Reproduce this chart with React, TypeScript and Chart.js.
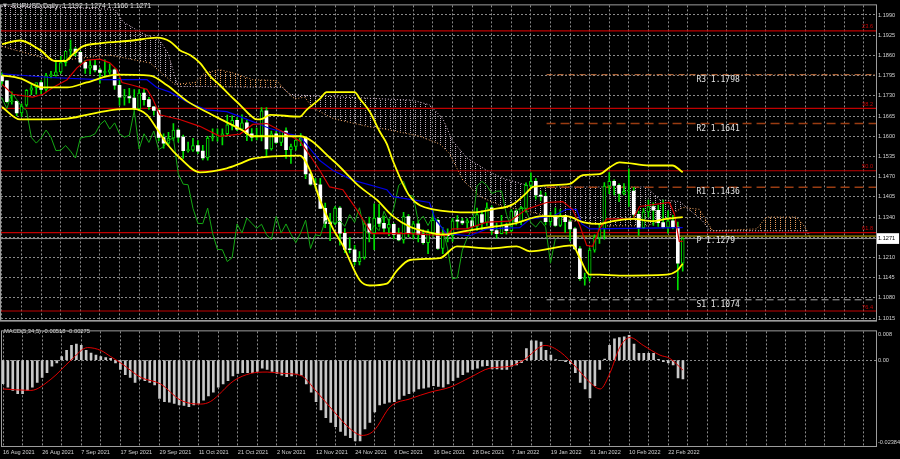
import React, { useEffect, useRef } from 'react';
import { Chart, registerables } from 'chart.js';

Chart.register(...registerables);

// ---------------- data ----------------
const titleText = 'EURUSD,Daily  1.1192 1.1274 1.1166 1.1271';
const macdTitle = 'MACD(5,34,5) -0.00518 -0.00275';

const opens = [
  1.1794, 1.1778, 1.1711, 1.1712, 1.1675, 1.1700, 1.1748, 1.1756, 1.1773, 1.1751,
  1.1795, 1.1796, 1.1807, 1.1837, 1.1874, 1.1880, 1.1870, 1.1838, 1.1819, 1.1827,
  1.1813, 1.1805, 1.1806, 1.1814, 1.1764, 1.1726, 1.1728, 1.1723, 1.1689, 1.1739,
  1.1718, 1.1695, 1.1683, 1.1596, 1.1578, 1.1594, 1.1620, 1.1597, 1.1554, 1.1555,
  1.1570, 1.1552, 1.1530, 1.1594, 1.1598, 1.1600, 1.1608, 1.1637, 1.1651, 1.1623,
  1.1643, 1.1608, 1.1597, 1.1603, 1.1682, 1.1559, 1.1608, 1.1580, 1.1617, 1.1557,
  1.1567, 1.1588, 1.1594, 1.1479, 1.1446, 1.1444, 1.1368, 1.1320, 1.1319, 1.1369,
  1.1288, 1.1236, 1.1235, 1.1197, 1.1210, 1.1318, 1.1289, 1.1337, 1.1320, 1.1304,
  1.1317, 1.1284, 1.1267, 1.1342, 1.1289, 1.1318, 1.1285, 1.1258, 1.1290, 1.1330,
  1.1239, 1.1283, 1.1280, 1.1328, 1.1327, 1.1321, 1.1328, 1.1310, 1.1348, 1.1323,
  1.1370, 1.1297, 1.1287, 1.1313, 1.1296, 1.1359, 1.1325, 1.1368, 1.1442, 1.1455,
  1.1411, 1.1407, 1.1325, 1.1343, 1.1313, 1.1345, 1.1325, 1.1302, 1.1238, 1.1142,
  1.1145, 1.1234, 1.1273, 1.1303, 1.1440, 1.1455, 1.1442, 1.1416, 1.1423, 1.1424,
  1.1349, 1.1306, 1.1357, 1.1374, 1.1362, 1.1322, 1.1308, 1.1328, 1.1308, 1.1192,
];
const highs = [
  1.1804, 1.1780, 1.1743, 1.1714, 1.1704, 1.1750, 1.1766, 1.1771, 1.1779, 1.1802,
  1.1809, 1.1845, 1.1857, 1.1873, 1.1909, 1.1885, 1.1873, 1.1844, 1.1845, 1.1845,
  1.1819, 1.1846, 1.1833, 1.1818, 1.1788, 1.1751, 1.1754, 1.1750, 1.1750, 1.1752,
  1.1725, 1.1696, 1.1688, 1.1608, 1.1613, 1.1641, 1.1624, 1.1604, 1.1581, 1.1593,
  1.1586, 1.1571, 1.1600, 1.1624, 1.1624, 1.1624, 1.1668, 1.1666, 1.1660, 1.1669,
  1.1653, 1.1625, 1.1626, 1.1692, 1.1692, 1.1617, 1.1616, 1.1617, 1.1627, 1.1575,
  1.1595, 1.1609, 1.1595, 1.1482, 1.1465, 1.1465, 1.1385, 1.1352, 1.1374, 1.1374,
  1.1303, 1.1275, 1.1249, 1.1229, 1.1328, 1.1340, 1.1383, 1.1381, 1.1343, 1.1334,
  1.1320, 1.1305, 1.1355, 1.1348, 1.1326, 1.1328, 1.1299, 1.1300, 1.1360, 1.1334,
  1.1306, 1.1302, 1.1336, 1.1345, 1.1336, 1.1335, 1.1339, 1.1369, 1.1360, 1.1386,
  1.1376, 1.1321, 1.1346, 1.1321, 1.1364, 1.1363, 1.1375, 1.1450, 1.1482, 1.1464,
  1.1424, 1.1418, 1.1355, 1.1370, 1.1364, 1.1346, 1.1331, 1.1306, 1.1245, 1.1160,
  1.1240, 1.1283, 1.1316, 1.1451, 1.1483, 1.1460, 1.1447, 1.1448, 1.1495, 1.1436,
  1.1359, 1.1368, 1.1395, 1.1386, 1.1379, 1.1395, 1.1360, 1.1346, 1.1324, 1.1274,
];
const lows = [
  1.1764, 1.1707, 1.1703, 1.1666, 1.1664, 1.1696, 1.1734, 1.1735, 1.1735, 1.1744,
  1.1788, 1.1793, 1.1802, 1.1826, 1.1856, 1.1858, 1.1835, 1.1802, 1.1800, 1.1807,
  1.1771, 1.1791, 1.1800, 1.1751, 1.1700, 1.1700, 1.1707, 1.1684, 1.1683, 1.1700,
  1.1686, 1.1668, 1.1585, 1.1562, 1.1570, 1.1587, 1.1581, 1.1529, 1.1549, 1.1551,
  1.1544, 1.1524, 1.1523, 1.1585, 1.1584, 1.1572, 1.1600, 1.1620, 1.1618, 1.1618,
  1.1586, 1.1585, 1.1588, 1.1585, 1.1535, 1.1555, 1.1576, 1.1570, 1.1529, 1.1513,
  1.1555, 1.1570, 1.1464, 1.1443, 1.1433, 1.1367, 1.1306, 1.1264, 1.1316, 1.1250,
  1.1226, 1.1225, 1.1186, 1.1186, 1.1205, 1.1260, 1.1235, 1.1309, 1.1292, 1.1280,
  1.1270, 1.1263, 1.1256, 1.1276, 1.1270, 1.1260, 1.1253, 1.1222, 1.1278, 1.1236,
  1.1222, 1.1260, 1.1262, 1.1300, 1.1316, 1.1304, 1.1297, 1.1297, 1.1300, 1.1313,
  1.1284, 1.1272, 1.1286, 1.1285, 1.1292, 1.1315, 1.1316, 1.1356, 1.1434, 1.1398,
  1.1392, 1.1315, 1.1313, 1.1310, 1.1309, 1.1291, 1.1263, 1.1235, 1.1136, 1.1121,
  1.1134, 1.1227, 1.1255, 1.1269, 1.1415, 1.1411, 1.1390, 1.1411, 1.1374, 1.1339,
  1.1281, 1.1303, 1.1340, 1.1313, 1.1310, 1.1304, 1.1288, 1.1302, 1.1106, 1.1166,
];
const closes = [
  1.1778, 1.1711, 1.1712, 1.1675, 1.1697, 1.1748, 1.1756, 1.1773, 1.1751, 1.1795,
  1.1796, 1.1807, 1.1837, 1.1874, 1.1880, 1.1870, 1.1838, 1.1819, 1.1827, 1.1813,
  1.1805, 1.1806, 1.1814, 1.1764, 1.1726, 1.1728, 1.1723, 1.1689, 1.1739, 1.1718,
  1.1695, 1.1683, 1.1596, 1.1578, 1.1594, 1.1620, 1.1597, 1.1554, 1.1555, 1.1570,
  1.1552, 1.1530, 1.1594, 1.1598, 1.1600, 1.1608, 1.1637, 1.1651, 1.1623, 1.1643,
  1.1608, 1.1597, 1.1603, 1.1682, 1.1559, 1.1608, 1.1580, 1.1617, 1.1557, 1.1567,
  1.1588, 1.1594, 1.1479, 1.1446, 1.1444, 1.1368, 1.1320, 1.1319, 1.1369, 1.1288,
  1.1236, 1.1235, 1.1197, 1.1210, 1.1318, 1.1289, 1.1337, 1.1320, 1.1304, 1.1317,
  1.1284, 1.1267, 1.1342, 1.1289, 1.1318, 1.1285, 1.1258, 1.1290, 1.1330, 1.1239,
  1.1283, 1.1280, 1.1328, 1.1327, 1.1321, 1.1328, 1.1310, 1.1348, 1.1323, 1.1370,
  1.1297, 1.1287, 1.1313, 1.1296, 1.1359, 1.1325, 1.1368, 1.1442, 1.1455, 1.1411,
  1.1407, 1.1325, 1.1343, 1.1313, 1.1345, 1.1325, 1.1302, 1.1238, 1.1142, 1.1145,
  1.1234, 1.1273, 1.1303, 1.1440, 1.1455, 1.1442, 1.1416, 1.1423, 1.1424, 1.1349,
  1.1306, 1.1357, 1.1374, 1.1362, 1.1322, 1.1308, 1.1328, 1.1308, 1.1192, 1.1271,
];

const dateTickLabels = [
  '16 Aug 2021', '26 Aug 2021', '7 Sep 2021', '17 Sep 2021', '29 Sep 2021', '11 Oct 2021',
  '21 Oct 2021', '2 Nov 2021', '12 Nov 2021', '24 Nov 2021', '6 Dec 2021', '16 Dec 2021',
  '28 Dec 2021', '7 Jan 2022', '19 Jan 2022', '31 Jan 2022', '10 Feb 2022', '22 Feb 2022',
];

const priceTicks = [
  1.1990, 1.1925, 1.1860, 1.1795, 1.1730, 1.1665, 1.1600, 1.1535,
  1.1470, 1.1405, 1.1340, 1.1275, 1.1210, 1.1145, 1.1080, 1.1015,
];
const hiddenPriceTick = 1.1275;
const bidPrice = 1.1271;

const fibNames = ['23.6', '38.2', '50.0', '61.8', '76.4'];
const fibLevels = [1.1939, 1.1690, 1.1489, 1.1290, 1.1038];

const pivotNames = ['R3', 'R2', 'R1', 'P', 'S1'];
const pivotLevels = [1.1798, 1.1641, 1.1436, 1.1279, 1.1074];

// [bar index, value] samples of the indicator lines
const bbUpper = [
  [0, 1.1896], [3.7, 1.1908], [7.8, 1.1877], [10.8, 1.1842], [12.9, 1.1842], [14.3, 1.1861],
  [16.5, 1.1889], [20, 1.1899], [26.7, 1.1908], [31.6, 1.1917], [34.3, 1.1905], [36.3, 1.1877],
  [38.4, 1.1861], [40.4, 1.1836], [42.4, 1.1795], [44.5, 1.1764], [46.5, 1.1732], [48.6, 1.1701],
  [50.6, 1.1669], [52, 1.1654], [53.3, 1.1657], [54.7, 1.1669], [60.8, 1.1663], [62.2, 1.1685],
  [64.9, 1.1720], [66.3, 1.1742], [72, 1.1742], [73.1, 1.1720], [75.1, 1.1679], [77.1, 1.1616],
  [78.6, 1.1575], [79.8, 1.1522], [83.3, 1.1406], [88, 1.1365], [96.1, 1.1355], [100.2, 1.1365],
  [104.3, 1.1381], [107.1, 1.1418], [108.4, 1.1437], [115.9, 1.1447], [118.6, 1.1475], [122, 1.1478],
  [124.1, 1.1500], [126.1, 1.1516], [132.2, 1.1506], [136.9, 1.1506], [139, 1.1484],
];
const bbMiddle = [
  [0, 1.1796], [3.7, 1.1786], [8.4, 1.1757], [13.3, 1.1757], [17.3, 1.1773], [23.5, 1.1798],
  [30.2, 1.1795], [33.7, 1.1764], [37.8, 1.1713], [42.4, 1.1673], [46, 1.1644], [49, 1.1620],
  [51.2, 1.1600], [60.8, 1.1600], [67.6, 1.1522], [73.1, 1.1437], [76.5, 1.1396], [79.8, 1.1343],
  [83.3, 1.1309], [86.7, 1.1293], [90, 1.1284], [94.9, 1.1296], [100.2, 1.1309], [104.3, 1.1318],
  [110.4, 1.1343], [115.3, 1.1343], [118.6, 1.1324], [122, 1.1318], [124.7, 1.1327], [128.8, 1.1334],
  [132.9, 1.1327], [135.7, 1.1334], [139, 1.1340],
];
const bbLower = [
  [0, 1.1694], [3.7, 1.1654], [13.3, 1.1657], [17.3, 1.1669], [22.7, 1.1685], [26.7, 1.1688],
  [29.6, 1.1669], [31.6, 1.1625], [33.7, 1.1575], [36.3, 1.1531], [40.4, 1.1484], [45.9, 1.1497],
  [48.6, 1.1512], [51.2, 1.1528], [60.8, 1.1538], [62.9, 1.1490], [64.9, 1.1396], [67.6, 1.1302],
  [69.6, 1.1249], [73.1, 1.1136], [75.1, 1.1120], [78.6, 1.1126], [80.6, 1.1167], [83.3, 1.1202],
  [89.4, 1.1208], [92.9, 1.1246], [99.6, 1.1239], [105.1, 1.1246], [107.8, 1.1230], [116.5, 1.1249],
  [118, 1.1208], [120, 1.1155], [122, 1.1155], [126.1, 1.1152], [135.7, 1.1155], [137.8, 1.1167],
  [138.8, 1.1186], [139, 1.1190],
];
const tenkan = [
  [0, 1.1767], [2.2, 1.1735], [6.3, 1.1726], [8.4, 1.1735], [10.4, 1.1757], [13.3, 1.1782],
  [15.3, 1.1820], [17.3, 1.1845], [20, 1.1848], [22, 1.1836], [23.5, 1.1814], [24.5, 1.1773],
  [26.7, 1.1764], [29.6, 1.1751], [30.8, 1.1720], [32.2, 1.1669], [36.3, 1.1654], [40.4, 1.1632],
  [44.5, 1.1600], [48.6, 1.1607], [51.2, 1.1638], [54.1, 1.1641], [58.2, 1.1607], [60.8, 1.1585],
  [62.9, 1.1538], [64.9, 1.1490], [66.9, 1.1437], [69.6, 1.1428], [72.4, 1.1365], [74.5, 1.1312],
  [75.5, 1.1287], [83.3, 1.1287], [90.8, 1.1280], [92, 1.1302], [94.9, 1.1302], [99, 1.1324],
  [103.7, 1.1327], [107.1, 1.1365], [111.2, 1.1387], [114.5, 1.1390], [116.5, 1.1365], [118, 1.1312],
  [119.4, 1.1249], [120.6, 1.1246], [122, 1.1302], [123.5, 1.1334], [128.8, 1.1334], [130.2, 1.1374],
  [136.3, 1.1387], [137.3, 1.1350], [138.3, 1.1262], [139, 1.1262],
];
const kijun = [
  [0, 1.1801], [9.8, 1.1789], [20, 1.1782], [29.6, 1.1782], [31.6, 1.1757], [34.3, 1.1742],
  [37.8, 1.1710], [41.8, 1.1685], [45.9, 1.1679], [48.6, 1.1663], [52.7, 1.1638], [54.7, 1.1625],
  [58.8, 1.1607], [60.8, 1.1600], [64.9, 1.1522], [67.6, 1.1490], [71.6, 1.1459], [78.6, 1.1428],
  [79.8, 1.1406], [87.3, 1.1387], [88.4, 1.1334], [90.8, 1.1287], [95.5, 1.1280], [99, 1.1302],
  [105.7, 1.1306], [107.8, 1.1334], [112.4, 1.1343], [115.3, 1.1365], [117.3, 1.1365], [118.4, 1.1318],
  [120, 1.1302], [139, 1.1306],
];
const senkouA = [
  [0, 1.1889], [10.8, 1.1842], [22, 1.1861], [30.2, 1.1836], [35.3, 1.1767], [39.4, 1.1773],
  [41.4, 1.1804], [44.5, 1.1814], [47.1, 1.1804], [51.2, 1.1782], [56.1, 1.1779], [57.8, 1.1748],
  [59.8, 1.1720], [61.8, 1.1726], [63.5, 1.1691], [67.6, 1.1657], [74.5, 1.1632], [78.6, 1.1622],
  [85.3, 1.1600], [89.4, 1.1575], [91.4, 1.1544], [94.1, 1.1459], [97.6, 1.1406], [102.2, 1.1374],
  [105.7, 1.1365], [113.9, 1.1334], [123.5, 1.1312], [131.6, 1.1312], [134.3, 1.1327], [139, 1.1371],
  [142.4, 1.1365], [143.9, 1.1327], [145.1, 1.1296], [154.1, 1.1302], [156.1, 1.1340], [162.2, 1.1340],
  [163.5, 1.1318], [164.9, 1.1284],
];
const senkouB = [
  [0, 1.2018], [11.8, 1.2015], [23.1, 1.2008], [24.7, 1.1968], [28.8, 1.1930], [32.2, 1.1908],
  [33.9, 1.1867], [34.9, 1.1814], [35.9, 1.1760], [41, 1.1760], [57.3, 1.1757], [58.8, 1.1735],
  [60.8, 1.1732], [83.9, 1.1716], [87.3, 1.1701], [90, 1.1657], [92, 1.1585], [94.9, 1.1531],
  [99, 1.1490], [102.2, 1.1465], [107.8, 1.1440], [111.2, 1.1437], [131.6, 1.1437], [134.3, 1.1396],
  [138.4, 1.1390], [139.8, 1.1371], [143.1, 1.1327], [144.5, 1.1296], [154.7, 1.1296], [164.3, 1.1296],
  [164.9, 1.1277],
];

const macdHist = [
  -0.0065, -0.0075, -0.0084, -0.0093, -0.0093, -0.0084, -0.0075, -0.0062, -0.0048, -0.0035,
  -0.0017, -0.0008, 0.0010, 0.0027, 0.0041, 0.0045, 0.0041, 0.0027, 0.0020, 0.0014,
  0.0010, 0.0007, 0.0005, -0.0008, -0.0026, -0.0040, -0.0048, -0.0062, -0.0053, -0.0057,
  -0.0062, -0.0069, -0.0106, -0.0115, -0.0117, -0.0120, -0.0124, -0.0126, -0.0129, -0.0124,
  -0.0120, -0.0111, -0.0099, -0.0089, -0.0075, -0.0066, -0.0057, -0.0044, -0.0037, -0.0035,
  -0.0035, -0.0035, -0.0031, -0.0022, -0.0026, -0.0031, -0.0037, -0.0042, -0.0046, -0.0044,
  -0.0037, -0.0042, -0.0066, -0.0089, -0.0115, -0.0138, -0.0160, -0.0173, -0.0185, -0.0198,
  -0.0209, -0.0215, -0.0224, -0.0224, -0.0191, -0.0173, -0.0144, -0.0124, -0.0120, -0.0117,
  -0.0115, -0.0108, -0.0098, -0.0093, -0.0087, -0.0080, -0.0078, -0.0075, -0.0071, -0.0073,
  -0.0075, -0.0066, -0.0057, -0.0048, -0.0040, -0.0033, -0.0026, -0.0022, -0.0017, -0.0015,
  -0.0024, -0.0024, -0.0026, -0.0026, -0.0017, -0.0013, -0.0007, 0.0032, 0.0054, 0.0054,
  0.0050, 0.0027, 0.0014, 0.0001, -0.0001, -0.0004, -0.0010, -0.0035, -0.0062, -0.0080,
  -0.0105, -0.0071, -0.0026, 0.0003, 0.0041, 0.0059, 0.0063, 0.0065, 0.0069, 0.0045,
  0.0019, 0.0019, 0.0019, 0.0019, 0.0002, -0.0004, -0.0008, -0.0013, -0.0049, -0.00518,
];
const macdSignal = [
  [0, -0.0080], [5.7, -0.0084], [9.8, -0.0053], [13.9, 0.0000], [17.3, 0.0035], [20, 0.0027],
  [22, 0.0010], [24.1, -0.0008], [28.2, -0.0048], [32.2, -0.0066], [36.3, -0.0111], [40.4, -0.0122],
  [42.4, -0.0115], [47.2, -0.0057], [50.6, -0.0037], [54, -0.0033], [57.4, -0.0037], [60.8, -0.0042],
  [64.2, -0.0089], [67.6, -0.0142], [71, -0.0191], [73.4, -0.0209], [75.8, -0.0196], [79.2, -0.0129],
  [83.3, -0.0107], [87.3, -0.0089], [91.4, -0.0075], [95.5, -0.0048], [99.6, -0.0022], [103.7, -0.0017],
  [106.4, 0.0000], [110.8, 0.0041], [113.9, 0.0023], [117.3, -0.0022], [120, -0.0062], [122.1, -0.0080],
  [124.1, -0.0035], [126.1, 0.0036], [128.2, 0.0063], [130.9, 0.0041], [134.3, 0.0014], [136.3, 0.0005],
  [139, -0.00275],
];
const macdTickValues = [0.00706, 0, -0.02277];
const macdTickLabels = ['0.008', '0.00', '-0.02384'];

// ---------------- layout / style constants ----------------
const X_MIN = -0.204;
const X_MAX = 178.47;
const PRICE_MIN = 1.1007;
const PRICE_MAX = 1.2021;
const MACD_MIN = -0.02384;
const MACD_MAX = 0.008;
const GRID_STEP = 4;
const LABEL_STEP = 8;
const CHIKOU_SHIFT = 26;
const PIVOT_START = 111.2;
const PIVOT_LABEL_AT = 141.8;

const FONT = '"Liberation Sans", Arial, sans-serif';
const GRID = '#8a8a8a';
const LIME = '#00e000';

const pivotStyles = [
  { color: '#d47a44', dash: [6, 2, 1, 2], width: 1 },
  { color: '#9a3c12', dash: [9, 5], width: 1.6 },
  { color: '#9a3c12', dash: [9, 5], width: 1.6 },
  { color: '#c8b000', dash: [], width: 1 },
  { color: '#a8a8a8', dash: [7, 4], width: 1 },
];

function makeHatch(color: string) {
  const c = document.createElement('canvas');
  c.width = 5;
  c.height = 2;
  const g = c.getContext('2d')!;
  g.fillStyle = color;
  g.fillRect(0, 0, 1, 1);
  return g.createPattern(c, 'repeat')!;
}

const toXY = (arr: number[][]) => arr.map(([x, y]) => ({ x, y }));
const hline = (y: number, x0: number, x1: number) => [{ x: x0, y }, { x: x1, y }];

const gridTicks = (s: any) => {
  const t: any[] = [];
  for (let v = 0; v <= X_MAX; v += GRID_STEP) t.push({ value: v });
  s.ticks = t;
};

const framePlugin = {
  id: 'frame',
  afterDraw(chart: any) {
    const { ctx, chartArea: a } = chart;
    ctx.save();
    ctx.strokeStyle = '#9c9c9c';
    ctx.lineWidth = 1;
    ctx.strokeRect(a.left - 0.5, a.top - 0.5, a.right - a.left + 1, a.bottom - a.top + 1);
    ctx.restore();
  },
};

const mainTextPlugin = {
  id: 'mainText',
  afterDatasetsDraw(chart: any) {
    const { ctx, chartArea, scales } = chart;
    const xs = scales.x;
    const ys = scales.y;
    ctx.save();
    ctx.textBaseline = 'middle';
    ctx.font = `5.6px ${FONT}`;
    ctx.fillStyle = '#c80000';
    ctx.textAlign = 'right';
    fibLevels.forEach((lv, k) => {
      ctx.fillText(fibNames[k], chartArea.right - 3, ys.getPixelForValue(lv) - 4);
    });
    ctx.font = '8px "DejaVu Sans Mono", monospace';
    ctx.fillStyle = '#e4e4e4';
    ctx.textAlign = 'left';
    pivotLevels.forEach((lv, k) => {
      ctx.fillText(`${pivotNames[k]} ${lv.toFixed(4)}`, xs.getPixelForValue(PIVOT_LABEL_AT), ys.getPixelForValue(lv) + 5);
    });
    ctx.fillStyle = '#e8e8e8';
    ctx.font = '5px "DejaVu Sans", sans-serif';
    ctx.fillText('\u25BC', 3, 6);
    ctx.font = `6.9px ${FONT}`;
    ctx.fillText(titleText, 12, 6);
    ctx.restore();
  },
};

const macdTextPlugin = {
  id: 'macdText',
  afterDatasetsDraw(chart: any) {
    const { ctx } = chart;
    ctx.save();
    ctx.textBaseline = 'middle';
    ctx.textAlign = 'left';
    ctx.fillStyle = '#e0e0e0';
    ctx.font = `5.8px ${FONT}`;
    ctx.fillText(macdTitle, 4, 5);
    ctx.restore();
  },
};

export default function App() {
  const mainRef = useRef<HTMLCanvasElement>(null);
  const macdRef = useRef<HTMLCanvasElement>(null);

  useEffect(() => {
    Chart.defaults.font.family = FONT;
    const thistleHatch = makeHatch('#bcaebc');
    const sandyHatch = makeHatch('#e89a5a');

    const lineBase = { type: 'line', pointRadius: 0, fill: false, tension: 0 };
    const smooth = { cubicInterpolationMode: 'monotone' };

    const mainDatasets: any[] = [
      {
        ...lineBase, label: 'Senkou A', data: toXY(senkouA), borderColor: '#f4a460', borderWidth: 1,
        borderDash: [1, 2], fill: { target: '+1', above: sandyHatch, below: thistleHatch }, order: 100,
      },
      { ...lineBase, label: 'Senkou B', data: toXY(senkouB), borderColor: '#d8bfd8', borderWidth: 1, borderDash: [1, 2], order: 99 },
      ...fibLevels.map((lv, k) => ({
        ...lineBase, label: 'Fibo ' + fibNames[k], data: hline(lv, X_MIN - 1, X_MAX + 1),
        borderColor: '#c00000', borderWidth: 1.2, order: 95,
      })),
      ...pivotLevels.map((lv, k) => ({
        ...lineBase, label: pivotNames[k], data: hline(lv, PIVOT_START, X_MAX + 1),
        borderColor: pivotStyles[k].color, borderWidth: pivotStyles[k].width, borderDash: pivotStyles[k].dash, order: 94,
      })),
      { ...lineBase, label: 'Bid', data: hline(bidPrice, X_MIN - 1, X_MAX + 1), borderColor: '#8e8e8e', borderWidth: 1, order: 93 },
      {
        type: 'bar', label: 'wicks', grouped: false, barThickness: 1,
        data: closes.map((c, i) => ({ x: i, y: [lows[i], highs[i]] })),
        backgroundColor: LIME, borderWidth: 0, order: 80,
      },
      {
        type: 'bar', label: 'bodies', grouped: false, barThickness: 3, minBarLength: 1, borderSkipped: false,
        data: closes.map((c, i) => ({ x: i, y: [Math.min(opens[i], c), Math.max(opens[i], c)] })),
        backgroundColor: closes.map((c, i) => (c < opens[i] ? '#ffffff' : '#000000')),
        borderColor: LIME,
        borderWidth: closes.map((c, i) => (c < opens[i] ? 0 : 1)),
        order: 79,
      },
      {
        ...lineBase, label: 'Chikou', data: closes.map((c, i) => ({ x: i - CHIKOU_SHIFT, y: c })),
        borderColor: '#14a814', borderWidth: 1, order: 50,
      },
      { ...lineBase, label: 'Kijun', data: toXY(kijun), borderColor: '#0000e6', borderWidth: 1.2, order: 40 },
      { ...lineBase, label: 'Tenkan', data: toXY(tenkan), borderColor: '#d40000', borderWidth: 1.2, order: 39 },
      { ...lineBase, ...smooth, label: 'BB up', data: toXY(bbUpper), borderColor: '#ffff00', borderWidth: 1.8, order: 30 },
      { ...lineBase, ...smooth, label: 'BB mid', data: toXY(bbMiddle), borderColor: '#ffff00', borderWidth: 1.8, order: 30 },
      { ...lineBase, ...smooth, label: 'BB low', data: toXY(bbLower), borderColor: '#ffff00', borderWidth: 1.8, order: 30 },
    ];

    const common = {
      animation: false,
      responsive: false,
      devicePixelRatio: 1,
      events: [],
      plugins: { legend: { display: false }, tooltip: { enabled: false } },
    };

    const main = new Chart(mainRef.current!, {
      type: 'line',
      data: { datasets: mainDatasets },
      options: {
        ...common,
        layout: { padding: { top: 1, left: 1, right: 0, bottom: 2 } },
        scales: {
          x: {
            type: 'linear', min: X_MIN, max: X_MAX, offset: false,
            grid: { color: GRID, offset: false, drawTicks: false, lineWidth: 1 },
            border: { display: true, color: '#9c9c9c', dash: [2, 2] },
            ticks: { display: false },
            afterBuildTicks: gridTicks,
            afterFit: (s: any) => { s.height = 0; },
          },
          y: {
            type: 'linear', position: 'right', min: PRICE_MIN, max: PRICE_MAX,
            afterBuildTicks: (s: any) => { s.ticks = [...priceTicks, bidPrice].map((v) => ({ value: v })); },
            afterFit: (s: any) => { s.width = 24; },
            grid: {
              drawTicks: false, lineWidth: 1,
              color: (c: any) => (c.tick && c.tick.value === bidPrice ? 'rgba(0,0,0,0)' : GRID),
            },
            border: { display: true, color: '#b0b0b0', dash: [2, 2] },
            ticks: {
              autoSkip: false, padding: 2,
              font: { size: 5.6, family: FONT },
              color: (c: any) => (c.tick && c.tick.value === bidPrice ? '#000000' : '#d2d2d2'),
              showLabelBackdrop: (c: any) => !!(c.tick && c.tick.value === bidPrice),
              backdropColor: '#ffffff',
              backdropPadding: { top: 2, bottom: 2, left: 1, right: 4 },
              callback: (v: number) => (v === hiddenPriceTick ? '' : v.toFixed(4)),
            },
          },
        },
      },
      plugins: [framePlugin, mainTextPlugin],
    } as any);

    const macd = new Chart(macdRef.current!, {
      type: 'line',
      data: {
        datasets: [
          {
            type: 'bar', label: 'MACD', grouped: false, barThickness: 2,
            data: macdHist.map((v, i) => ({ x: i, y: v })),
            backgroundColor: '#c8c8c8', borderWidth: 0, order: 10,
          },
          {
            type: 'line', label: 'Signal', data: toXY(macdSignal), borderColor: '#e00000', borderWidth: 1,
            pointRadius: 0, fill: false, cubicInterpolationMode: 'monotone', order: 1,
          },
        ],
      },
      options: {
        ...common,
        layout: { padding: { top: 1, left: 1, right: 0, bottom: 0 } },
        scales: {
          x: {
            type: 'linear', min: X_MIN, max: X_MAX, offset: false,
            grid: { color: GRID, offset: false, drawTicks: false, lineWidth: 1 },
            border: { display: true, color: '#9c9c9c', dash: [2, 2] },
            afterBuildTicks: gridTicks,
            afterFit: (s: any) => { s.height = 13; },
            ticks: {
              autoSkip: false, maxRotation: 0, minRotation: 0, align: 'start', padding: 3,
              font: { size: 5.6, family: FONT }, color: '#d2d2d2',
              callback: (v: number) => (v % LABEL_STEP === 0 ? dateTickLabels[v / LABEL_STEP] || '' : ''),
            },
          },
          y: {
            type: 'linear', position: 'right', min: MACD_MIN, max: MACD_MAX,
            afterBuildTicks: (s: any) => { s.ticks = macdTickValues.map((v) => ({ value: v })); },
            afterFit: (s: any) => { s.width = 24; },
            grid: {
              drawTicks: false, lineWidth: 1,
              color: (c: any) => (c.tick && c.tick.value === 0 ? GRID : 'rgba(0,0,0,0)'),
            },
            border: { display: true, color: '#b0b0b0', dash: [2, 2] },
            ticks: {
              autoSkip: false, padding: 2, font: { size: 5.6, family: FONT }, color: '#d2d2d2',
              callback: (v: number, i: number) => macdTickLabels[i],
            },
          },
        },
      },
      plugins: [framePlugin, macdTextPlugin],
    } as any);

    return () => {
      main.destroy();
      macd.destroy();
    };
  }, []);

  return (
    <div style={{ position: 'fixed', left: 0, top: 0, width: 900, height: 459, background: '#000', overflow: 'hidden' }}>
      <canvas ref={mainRef} width={900} height={326} style={{ position: 'absolute', left: 0, top: 0, display: 'block' }} />
      <canvas ref={macdRef} width={900} height={133} style={{ position: 'absolute', left: 0, top: 326, display: 'block' }} />
    </div>
  );
}
